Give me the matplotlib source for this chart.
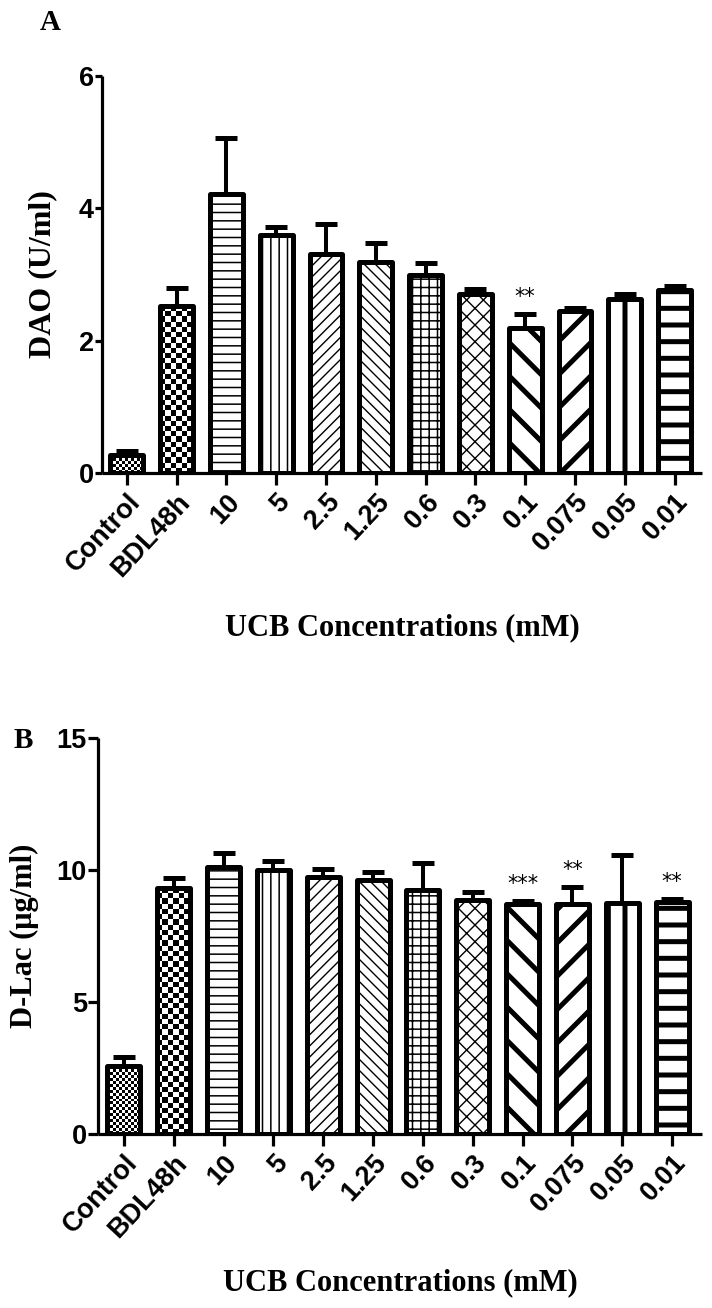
import matplotlib
matplotlib.use('Agg')
import matplotlib.pyplot as plt
import numpy as np
from matplotlib.colors import ListedColormap

# ---------------- data ----------------
categories = ['Control', 'BDL48h', '10', '5', '2.5', '1.25', '0.6', '0.3',
              '0.1', '0.075', '0.05', '0.01']

dao_mean = [0.27, 2.52, 4.22, 3.60, 3.31, 3.19, 2.99, 2.70, 2.19, 2.45, 2.63, 2.76]
dao_err = [0.06, 0.28, 0.84, 0.12, 0.45, 0.29, 0.19, 0.08, 0.22, 0.04, 0.07, 0.06]
dao_sig = ['', '', '', '', '', '', '', '', '**', '', '', '']
dao_ticks = [0, 2, 4, 6]

dlac_mean = [2.57, 9.31, 10.11, 10.00, 9.73, 9.62, 9.24, 8.86, 8.71, 8.72, 8.75, 8.78]
dlac_err = [0.33, 0.40, 0.52, 0.33, 0.30, 0.29, 1.02, 0.30, 0.13, 0.62, 1.80, 0.14]
dlac_sig = ['', '', '', '', '', '', '', '', '***', '**', '', '**']
dlac_ticks = [0, 5, 10, 15]

# ---------------- style ----------------
hatches = ['checker_fine', 'checker', '--', '||', '///', '\\\\\\', '++', 'xx',
           '\\', '/', '|', '-']
hatch_lws = [0, 0, 1.1, 1.1, 1.0, 1.0, 1.1, 1.0, 3.6, 3.6, 3.6, 3.6]
checker_px = {'checker_fine': 3.0, 'checker': 5.2}

SANS = 'Liberation Sans'
SERIF = 'Liberation Serif'
W = 0.66
EDGE_LW = 3.6
TICK_FS = 19.5

fig = plt.figure(figsize=(7.12, 13.08), dpi=100)
axA = fig.add_axes([102 / 712, 1 - 473 / 1308, 600 / 712, 397 / 1308])
axB = fig.add_axes([98 / 712, 1 - 1134 / 1308, 604 / 712, 396 / 1308])


def draw_panel(ax, means, errs, sig, ticks, xlim, ytick_len):
    x = np.arange(len(categories))
    ax.set_xlim(*xlim)
    ax.set_ylim(ticks[0], ticks[-1])
    ax.errorbar(x, means, yerr=[np.zeros(len(errs)), errs], fmt='none',
                ecolor='black', elinewidth=2.9, capsize=8, capthick=3.6,
                zorder=1, clip_on=False)
    fill_patches = []
    for i in range(len(categories)):
        h = hatches[i]
        is_checker = h.startswith('checker')
        with plt.rc_context({'hatch.linewidth': hatch_lws[i] if hatch_lws[i] else 1.0,
                             'hatch.color': 'black'}):
            bc = ax.bar(x[i], means[i], width=W, color='white', edgecolor='black',
                        linewidth=0, hatch=None if is_checker else h, zorder=2)
        p = bc.patches[0]
        if not is_checker and hasattr(p, 'set_hatch_linewidth'):
            p.set_hatch_linewidth(hatch_lws[i])
        fill_patches.append(p)
    outl = ax.bar(x, means, width=W, fill=False, edgecolor='black',
                  linewidth=EDGE_LW, zorder=3)
    for p in outl.patches:
        p.set_joinstyle('round')
    for i in range(len(categories)):
        if sig[i]:
            ax.annotate(sig[i], (x[i], means[i] + errs[i]), xytext=(0, 5),
                        textcoords='offset points', ha='center', va='bottom',
                        fontsize=15, fontfamily='DejaVu Sans', zorder=5)
    fig.canvas.draw()
    for i in range(len(categories)):
        h = hatches[i]
        if not h.startswith('checker'):
            continue
        p = fill_patches[i]
        x0, w, hh = p.get_x(), p.get_width(), p.get_height()
        (px0, py0) = ax.transData.transform((x0, 0))
        (px1, py1) = ax.transData.transform((x0 + w, hh))
        sq = checker_px[h]
        nc = max(1, int(round((px1 - px0) / sq)))
        nr = max(1, int(round((py1 - py0) / sq)))
        arr = (np.add.outer(np.arange(nr), np.arange(nc)) % 2).astype(float)
        im = ax.imshow(arr, extent=(x0, x0 + w, 0, hh), origin='lower',
                       cmap=ListedColormap(['white', 'black']),
                       interpolation='nearest', aspect='auto', zorder=2.5)
        im.set_clip_path(p)
    ax.set_xlim(*xlim)
    ax.set_ylim(ticks[0], ticks[-1])
    ax.set_aspect('auto')

    ax.spines['top'].set_visible(False)
    ax.spines['right'].set_visible(False)
    for s in ('left', 'bottom'):
        ax.spines[s].set_linewidth(2.3)
        ax.spines[s].set_capstyle('butt')
    ax.set_yticks(ticks)
    ax.set_yticklabels([str(t) for t in ticks], fontfamily=SANS,
                       fontweight='bold', fontsize=TICK_FS)
    ax.set_xticks(x)
    ax.set_xticklabels(categories, fontfamily=SANS, fontweight='bold',
                       fontsize=TICK_FS, rotation=47, ha='right',
                       rotation_mode='anchor')
    ax.tick_params(axis='y', direction='out', length=ytick_len, width=2.3, pad=1)
    ax.tick_params(axis='x', direction='out', length=8.5, width=2.3, pad=3)


draw_panel(axA, dao_mean, dao_err, dao_sig, dao_ticks, (-0.5, 11.55), 5)
draw_panel(axB, dlac_mean, dlac_err, dlac_sig, dlac_ticks, (-0.52, 11.6), 7)

fig.text(43 / 712, 1 - 274 / 1308, 'DAO (U/ml)', rotation=90, ha='center',
         va='center', fontfamily=SERIF, fontweight='bold', fontsize=23)
fig.text(24 / 712, 1 - 936 / 1308, 'D-Lac (\u03bcg/ml)', rotation=90, ha='center',
         va='center', fontfamily=SERIF, fontweight='bold', fontsize=22)

fig.text(402 / 712, 1 - 628 / 1308, 'UCB Concentrations (mM)', ha='center',
         va='center', fontfamily=SERIF, fontweight='bold', fontsize=22)
fig.text(400 / 712, 1 - 1283 / 1308, 'UCB Concentrations (mM)', ha='center',
         va='center', fontfamily=SERIF, fontweight='bold', fontsize=22)
fig.text(50 / 712, 1 - 22 / 1308, 'A', ha='center', va='center',
         fontfamily=SERIF, fontweight='bold', fontsize=21)
fig.text(23 / 712, 1 - 740 / 1308, 'B', ha='center', va='center',
         fontfamily=SERIF, fontweight='bold', fontsize=21)

fig.savefig('out.png', dpi=100)
